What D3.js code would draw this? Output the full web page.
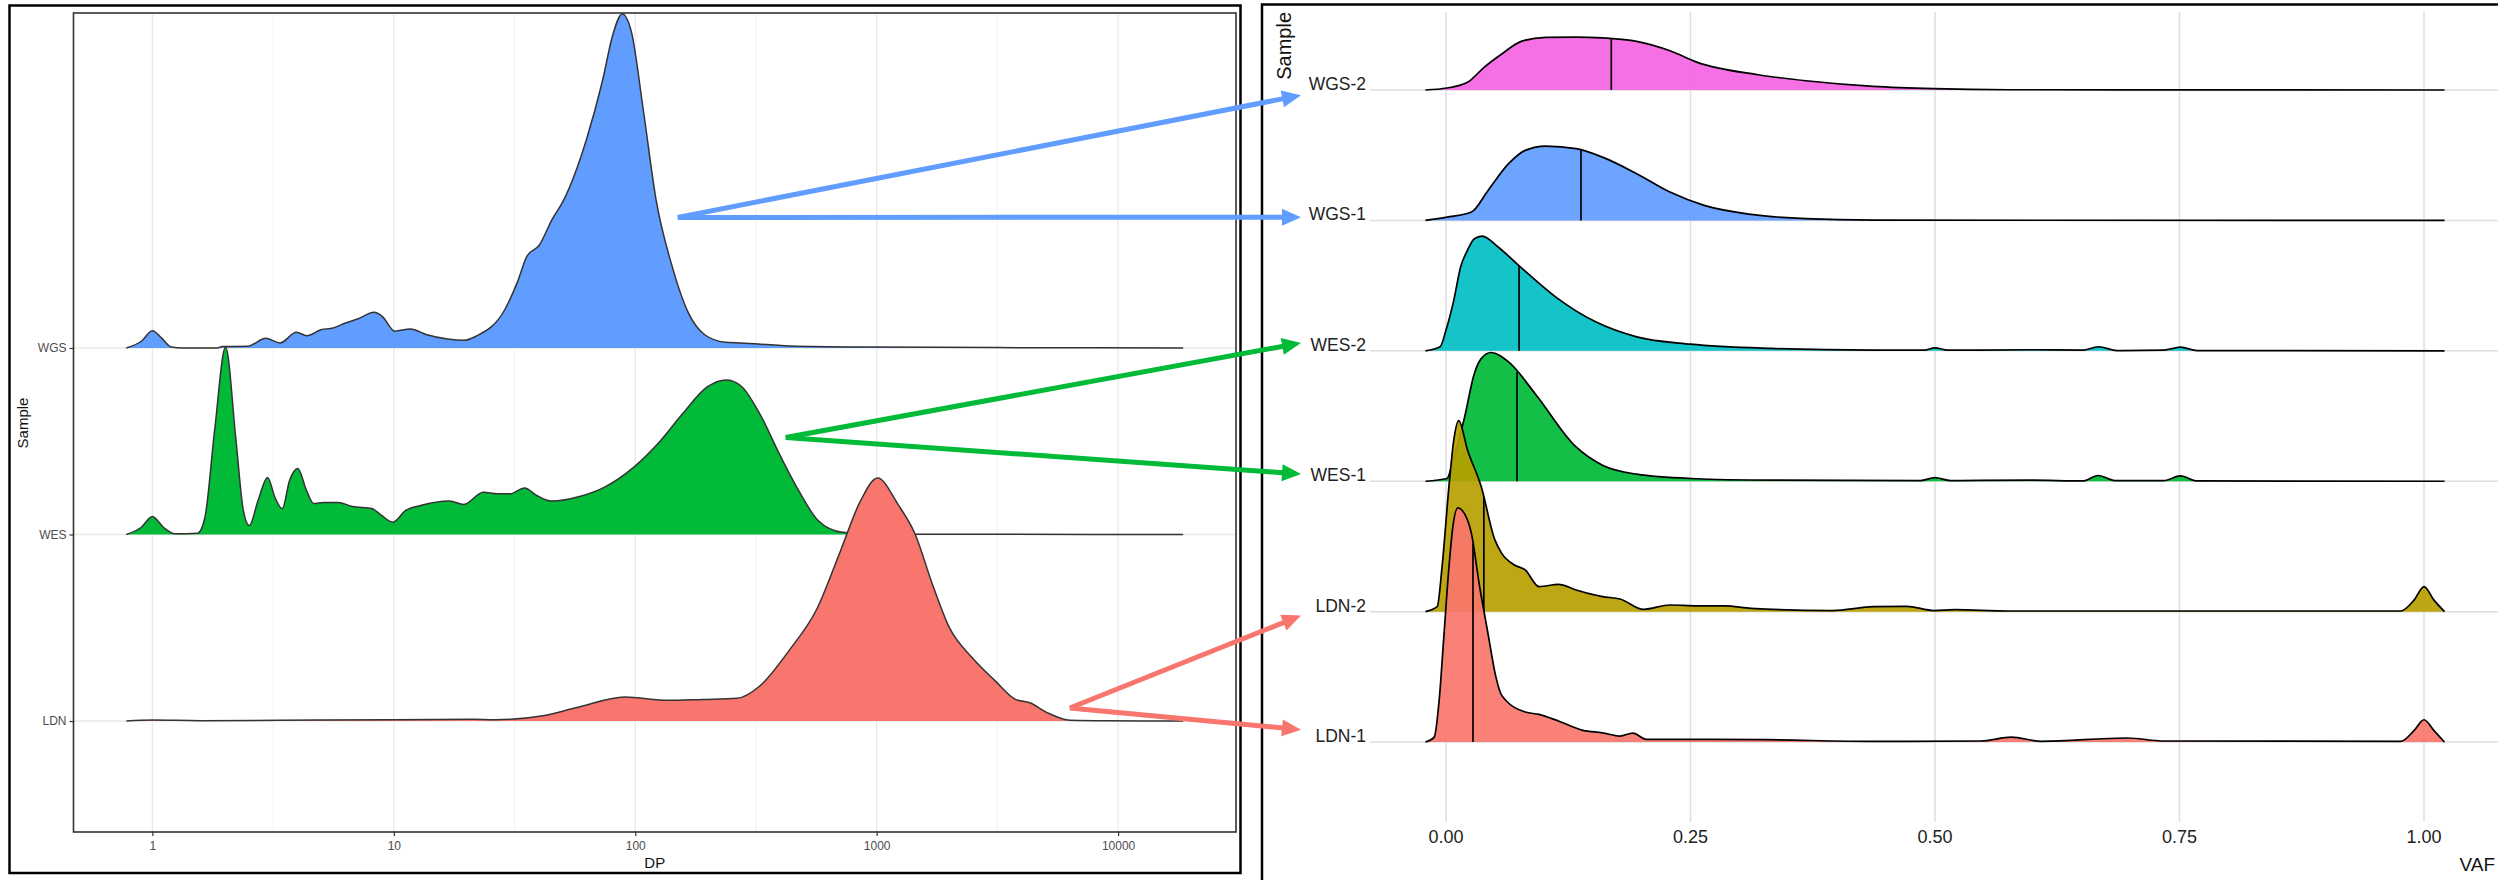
<!DOCTYPE html>
<html>
<head>
<meta charset="utf-8">
<script src="https://cdn.jsdelivr.net/npm/d3@7"></script>
<style>
  body { margin: 0; background: #fff; }
  svg { display: block; font-family: "Liberation Sans", Arial, sans-serif; }
</style>
</head>
<body>
<svg id="chart" width="2498" height="880"></svg>
<script>
// ---------- left panel: depth (DP) density per sample, heights in row units
var dpSamples = ["LDN", "WES", "WGS"];
var dpColors = ["#F8766D", "#00BA38", "#619CFF"];
var dpTicks = [1, 10, 100, 1000, 10000];

var ldnDP   = [0.78, 1.0, 1.58, 4.8, 9.86, 21.2, 26.4, 40.9, 56.9, 90.6, 137, 190, 264, 328, 432, 568, 708, 857, 1009, 1222, 1442, 1700, 2004, 2494, 3105, 3760, 4313, 5083, 6324, 9000, 18600];
var ldnDens = [0, 0.005, 0.002, 0.005, 0.007, 0.009, 0.007, 0.027, 0.071, 0.129, 0.111, 0.116, 0.122, 0.188, 0.375, 0.606, 0.912, 1.180, 1.303, 1.164, 1.003, 0.735, 0.499, 0.338, 0.214, 0.116, 0.098, 0.045, 0.004, 0.001, 0];

var wesDP   = [0.78, 0.90, 1.0, 1.11, 1.24, 1.54, 1.65, 1.81, 2.01, 2.22, 2.38, 2.52, 2.74, 3.0, 3.22, 3.45, 3.70, 4.0, 4.35, 4.66, 5.11, 5.87, 6.74, 8.11, 8.9, 9.9, 11.2, 12.9, 17.0, 19.5, 23.5, 27.0, 30.3, 34.8, 39.1, 45.0, 59.3, 74.7, 98.7, 124, 157, 198, 238, 273, 328, 395, 475, 572, 721, 1000, 18600];
var wesDens = [0, 0.039, 0.097, 0.039, 0.004, 0.007, 0.091, 0.558, 1.005, 0.504, 0.129, 0.048, 0.182, 0.306, 0.198, 0.139, 0.290, 0.354, 0.236, 0.166, 0.172, 0.172, 0.150, 0.139, 0.102, 0.066, 0.129, 0.155, 0.179, 0.161, 0.227, 0.218, 0.218, 0.250, 0.209, 0.179, 0.205, 0.254, 0.361, 0.486, 0.647, 0.790, 0.829, 0.799, 0.647, 0.433, 0.236, 0.075, 0.012, 0.002, 0];

var wgsDP   = [0.78, 0.9, 1.0, 1.09, 1.2, 1.33, 1.86, 1.95, 2.48, 2.95, 3.38, 3.95, 4.36, 4.99, 5.61, 6.31, 7.08, 8.28, 8.95, 10.1, 11.7, 13.7, 16.7, 19.5, 21.9, 28.8, 32.4, 35.6, 40.1, 45.1, 50.6, 62.7, 73.3, 80.5, 88.3, 96.2, 108, 122, 142, 166, 194, 236, 274, 437, 955, 3162, 18600];
var wgsDens = [0, 0.036, 0.093, 0.054, 0.005, 0, 0, 0.008, 0.009, 0.052, 0.027, 0.084, 0.066, 0.098, 0.107, 0.134, 0.155, 0.191, 0.170, 0.090, 0.102, 0.071, 0.048, 0.041, 0.063, 0.205, 0.349, 0.492, 0.552, 0.686, 0.794, 1.115, 1.437, 1.673, 1.791, 1.700, 1.276, 0.794, 0.440, 0.188, 0.071, 0.031, 0.027, 0.011, 0.005, 0.002, 0];

// ---------- right panel: VAF density per sample, heights in row units
var vafSamples = ["LDN-1", "LDN-2", "WES-1", "WES-2", "WGS-1", "WGS-2"];
var vafColors = ["#F8766D", "#B79F00", "#00BA38", "#00BFC4", "#619CFF", "#F564E3"];
var vafMedians = [0.0276, 0.0387, 0.0726, 0.0747, 0.138, 0.169];
var vafTicks = [0, 0.25, 0.5, 0.75, 1];

var ldn1VAF  = [-0.021, -0.012, -0.007, -0.002, 0.003, 0.007, 0.012, 0.019, 0.026, 0.034, 0.043, 0.051, 0.057, 0.081, 0.095, 0.115, 0.140, 0.160, 0.178, 0.191, 0.205, 0.250, 0.326, 0.437, 0.547, 0.578, 0.609, 0.696, 0.734, 0.976, 0.990, 1.000, 1.010, 1.021];
var ldn1Dens = [0, 0.038, 0.32, 0.83, 1.34, 1.65, 1.795, 1.75, 1.60, 1.21, 0.83, 0.50, 0.358, 0.230, 0.212, 0.161, 0.090, 0.071, 0.046, 0.069, 0.021, 0.021, 0.018, 0.005, 0.008, 0.038, 0.005, 0.031, 0.008, 0.005, 0.090, 0.171, 0.090, 0];

var ldn2VAF  = [-0.021, -0.009, -0.004, 0.003, 0.008, 0.013, 0.022, 0.036, 0.050, 0.057, 0.070, 0.081, 0.095, 0.115, 0.133, 0.160, 0.178, 0.202, 0.229, 0.257, 0.285, 0.312, 0.395, 0.437, 0.471, 0.499, 0.520, 0.575, 0.713, 0.976, 0.990, 1.000, 1.010, 1.021];
var ldn2Dens = [0, 0.038, 0.345, 0.959, 1.317, 1.465, 1.24, 0.959, 0.55, 0.447, 0.358, 0.320, 0.192, 0.209, 0.166, 0.115, 0.097, 0.018, 0.051, 0.044, 0.044, 0.025, 0.008, 0.038, 0.041, 0.008, 0.015, 0.005, 0.005, 0.005, 0.090, 0.192, 0.090, 0];

var wes1VAF  = [-0.021, 0.001, 0.008, 0.019, 0.029, 0.036, 0.046, 0.064, 0.091, 0.133, 0.160, 0.195, 0.250, 0.333, 0.485, 0.500, 0.516, 0.599, 0.651, 0.667, 0.684, 0.734, 0.751, 0.768, 1.021];
var wes1Dens = [0, 0.021, 0.18, 0.491, 0.826, 0.94, 0.987, 0.915, 0.673, 0.263, 0.123, 0.054, 0.021, 0.008, 0.005, 0.028, 0.005, 0.008, 0.002, 0.044, 0.005, 0.005, 0.041, 0.002, 0];

var wes2VAF  = [-0.021, -0.006, 0.0, 0.008, 0.015, 0.022, 0.029, 0.037, 0.053, 0.074, 0.112, 0.153, 0.195, 0.250, 0.333, 0.437, 0.489, 0.500, 0.513, 0.599, 0.651, 0.667, 0.686, 0.734, 0.751, 0.768, 1.021];
var wes2Dens = [0, 0.031, 0.159, 0.389, 0.644, 0.772, 0.859, 0.880, 0.798, 0.657, 0.414, 0.222, 0.107, 0.051, 0.018, 0.005, 0.005, 0.023, 0.005, 0.008, 0.005, 0.031, 0.002, 0.005, 0.028, 0.002, 0];

var wgs1VAF  = [-0.021, 0.001, 0.026, 0.043, 0.064, 0.081, 0.102, 0.133, 0.160, 0.195, 0.229, 0.264, 0.312, 0.368, 0.437, 0.6, 1.021];
var wgs1Dens = [0, 0.025, 0.064, 0.230, 0.435, 0.537, 0.570, 0.550, 0.485, 0.358, 0.217, 0.115, 0.046, 0.013, 0.002, 0.001, 0];

var wgs2VAF  = [-0.021, 0.001, 0.022, 0.039, 0.057, 0.077, 0.102, 0.133, 0.160, 0.195, 0.229, 0.257, 0.319, 0.368, 0.437, 0.499, 0.575, 0.75, 1.021];
var wgs2Dens = [0, 0.015, 0.059, 0.174, 0.276, 0.373, 0.404, 0.406, 0.399, 0.373, 0.301, 0.212, 0.117, 0.071, 0.028, 0.010, 0.002, 0.001, 0];

var svg = d3.select("#chart");

function toPoints(xs, ys) {
  return xs.map(function (x, i) { return { x: x, y: ys[i] }; });
}

// ================= LEFT PANEL =================
var dpSeries = [toPoints(ldnDP, ldnDens), toPoints(wesDP, wesDens), toPoints(wgsDP, wgsDens)];
var dpAll = ldnDP.concat(wesDP, wgsDP);
var lLo = Math.log10(d3.min(dpAll)), lHi = Math.log10(d3.max(dpAll));
var lPad = (lHi - lLo) * 0.05;

var L = { left: 73.5, right: 1236, top: 13, bottom: 832 };
var xL = d3.scaleLog()
  .domain([Math.pow(10, lLo - lPad), Math.pow(10, lHi + lPad)])
  .range([L.left, L.right]);
var yL = d3.scaleLinear().domain([0.405, 4.796]).range([L.bottom, L.top]);

var left = svg.append("g");

// grid
var minorDP = dpTicks.map(function (t) { return t * Math.sqrt(10); })
  .filter(function (t) { return t < xL.domain()[1]; });
left.selectAll(".minor").data(minorDP).enter().append("line")
  .attr("x1", d => xL(d)).attr("x2", d => xL(d))
  .attr("y1", L.top).attr("y2", L.bottom)
  .attr("stroke", "#EFEFEF").attr("stroke-width", 0.8);
left.selectAll(".major").data(dpTicks).enter().append("line")
  .attr("x1", d => xL(d)).attr("x2", d => xL(d))
  .attr("y1", L.top).attr("y2", L.bottom)
  .attr("stroke", "#E8E8E8").attr("stroke-width", 1.3);
left.selectAll(".hgrid").data(dpSamples).enter().append("line")
  .attr("x1", L.left).attr("x2", L.right)
  .attr("y1", (d, i) => yL(i + 1)).attr("y2", (d, i) => yL(i + 1))
  .attr("stroke", "#E8E8E8").attr("stroke-width", 1.3);

// ridges, top row drawn first
d3.range(dpSamples.length - 1, -1, -1).forEach(function (i) {
  var pos = i + 1;
  var area = d3.area()
    .x(d => xL(d.x)).y0(yL(pos)).y1(d => yL(pos + d.y))
    .curve(d3.curveMonotoneX);
  var line = d3.line()
    .x(d => xL(d.x)).y(d => yL(pos + d.y))
    .curve(d3.curveMonotoneX);
  left.append("path").datum(dpSeries[i]).attr("d", area)
    .attr("fill", dpColors[i]);
  left.append("path").datum(dpSeries[i]).attr("d", line)
    .attr("fill", "none").attr("stroke", "#333").attr("stroke-width", 1.5);
});

// panel border
left.append("rect")
  .attr("x", L.left).attr("y", L.top)
  .attr("width", L.right - L.left).attr("height", L.bottom - L.top)
  .attr("fill", "none").attr("stroke", "#333").attr("stroke-width", 1.6);

// axes
var xAxisL = left.append("g").attr("transform", "translate(0," + L.bottom + ")")
  .call(d3.axisBottom(xL).tickValues(dpTicks).tickFormat(d3.format("d")).tickSize(4).tickPadding(5));
var yAxisL = left.append("g").attr("transform", "translate(" + L.left + ",0)")
  .call(d3.axisLeft(yL).tickValues([1, 2, 3]).tickFormat(d => dpSamples[d - 1]).tickSize(4).tickPadding(3));
[xAxisL, yAxisL].forEach(function (a) {
  a.select(".domain").remove();
  a.selectAll(".tick line").attr("stroke", "#333").attr("stroke-width", 1.2);
  a.selectAll(".tick text").attr("fill", "#4D4D4D")
    .style("font-size", "12px").style("font-family", "Liberation Sans, Arial, sans-serif");
});

left.append("text").attr("x", (L.left + L.right) / 2).attr("y", 868)
  .attr("text-anchor", "middle").style("font-size", "15px").attr("fill", "#111").text("DP");
left.append("text").attr("transform", "translate(28,423) rotate(-90)")
  .attr("text-anchor", "middle").style("font-size", "15px").attr("fill", "#111").text("Sample");

// outer frame
left.append("rect").attr("x", 9.5).attr("y", 5.5).attr("width", 1231).attr("height", 867.5)
  .attr("fill", "none").attr("stroke", "#000").attr("stroke-width", 2.5);

// ================= RIGHT PANEL =================
var vafSeries = [toPoints(ldn1VAF, ldn1Dens), toPoints(ldn2VAF, ldn2Dens), toPoints(wes1VAF, wes1Dens),
                 toPoints(wes2VAF, wes2Dens), toPoints(wgs1VAF, wgs1Dens), toPoints(wgs2VAF, wgs2Dens)];
var vafAll = [].concat(ldn1VAF, ldn2VAF, wes1VAF, wes2VAF, wgs1VAF, wgs2VAF);
var rLo = d3.min(vafAll), rHi = d3.max(vafAll), rPad = (rHi - rLo) * 0.05;

var R = { left: 1370, right: 2498, top: 12, bottom: 822 };
var xR = d3.scaleLinear().domain([rLo - rPad, rHi + rPad]).range([1374.5, 2495.5]);
var yR = d3.scaleLinear().domain([0.387, 6.598]).range([R.bottom, R.top]);

var right = svg.append("g");

right.selectAll(".vgrid").data(vafTicks).enter().append("line")
  .attr("x1", d => xR(d)).attr("x2", d => xR(d))
  .attr("y1", R.top).attr("y2", R.bottom)
  .attr("stroke", "#DEDEDE").attr("stroke-width", 1.5);
right.selectAll(".hgrid").data(vafSamples).enter().append("line")
  .attr("x1", R.left).attr("x2", R.right)
  .attr("y1", (d, i) => yR(i + 1)).attr("y2", (d, i) => yR(i + 1))
  .attr("stroke", "#DEDEDE").attr("stroke-width", 1.5);

// height of a ridge at x, straight interpolation between read points
function heightAt(pts, x) {
  var j = d3.bisector(d => d.x).left(pts, x);
  if (j <= 0) return pts[0].y;
  var a = pts[j - 1], b = pts[j];
  return a.y + (b.y - a.y) * (x - a.x) / (b.x - a.x);
}

d3.range(vafSamples.length - 1, -1, -1).forEach(function (i) {
  var pos = i + 1;
  var area = d3.area()
    .x(d => xR(d.x)).y0(yR(pos)).y1(d => yR(pos + d.y))
    .curve(d3.curveMonotoneX);
  var line = d3.line()
    .x(d => xR(d.x)).y(d => yR(pos + d.y))
    .curve(d3.curveMonotoneX);
  right.append("path").datum(vafSeries[i]).attr("d", area)
    .attr("fill", vafColors[i]).attr("fill-opacity", 0.92);
  right.append("path").datum(vafSeries[i]).attr("d", line)
    .attr("fill", "none").attr("stroke", "#000").attr("stroke-width", 1.7);
  var m = vafMedians[i];
  right.append("line")
    .attr("x1", xR(m)).attr("x2", xR(m))
    .attr("y1", yR(pos)).attr("y2", yR(pos + heightAt(vafSeries[i], m)))
    .attr("stroke", "#000").attr("stroke-width", 1.7);
});

// axis labels
right.selectAll(".xtick").data(vafTicks).enter().append("text")
  .attr("x", d => xR(d)).attr("y", 843)
  .attr("text-anchor", "middle").style("font-size", "18px").attr("fill", "#222")
  .text(d3.format(".2f"));
right.selectAll(".ylab").data(vafSamples).enter().append("text")
  .attr("x", 1366).attr("y", (d, i) => yR(i + 1))
  .attr("text-anchor", "end").style("font-size", "17.5px").attr("fill", "#222")
  .text(d => d);
right.append("text").attr("x", 2495).attr("y", 871)
  .attr("text-anchor", "end").style("font-size", "19px").attr("fill", "#111").text("VAF");
right.append("text").attr("transform", "translate(1291,12) rotate(-90)")
  .attr("text-anchor", "end").style("font-size", "20px").attr("fill", "#111").text("Sample");

// frame on left and top
right.append("path").attr("d", "M1262,880 L1262,4.5 L2498,4.5")
  .attr("fill", "none").attr("stroke", "#000").attr("stroke-width", 2.5);

// ================= ARROWS linking the panels =================
var arrows = [
  { from: "WGS", dp: 150, lift: 0.70, to: "WGS-2", tipLift: -0.04 },
  { from: "WGS", dp: 150, lift: 0.70, to: "WGS-1", tipLift: 0.025 },
  { from: "WES", dp: 420, lift: 0.52, to: "WES-2", tipLift: 0.06 },
  { from: "WES", dp: 420, lift: 0.52, to: "WES-1", tipLift: 0.055 },
  { from: "LDN", dp: 6310, lift: 0.07, to: "LDN-2", tipLift: -0.03 },
  { from: "LDN", dp: 6310, lift: 0.07, to: "LDN-1", tipLift: 0.095 }
];
var tipX = R.left - 69, headLen = 19, headHalf = 8.5;
var arrowG = svg.append("g");
arrows.forEach(function (a) {
  var si = dpSamples.indexOf(a.from), ti = vafSamples.indexOf(a.to);
  var x0 = xL(a.dp), y0 = yL(si + 1 + a.lift);
  var x1 = tipX, y1 = yR(ti + 1 + a.tipLift);
  var dx = x1 - x0, dy = y1 - y0, len = Math.sqrt(dx * dx + dy * dy);
  var ux = dx / len, uy = dy / len;
  var col = dpColors[si];
  arrowG.append("line")
    .attr("x1", x0).attr("y1", y0)
    .attr("x2", x1 - ux * headLen * 0.8).attr("y2", y1 - uy * headLen * 0.8)
    .attr("stroke", col).attr("stroke-width", 5);
  var bx = x1 - ux * headLen, by = y1 - uy * headLen;
  arrowG.append("path")
    .attr("d", "M" + x1 + "," + y1 +
      "L" + (bx - uy * headHalf) + "," + (by + ux * headHalf) +
      "L" + (bx + uy * headHalf) + "," + (by - ux * headHalf) + "Z")
    .attr("fill", col);
});
</script>
</body>
</html>
